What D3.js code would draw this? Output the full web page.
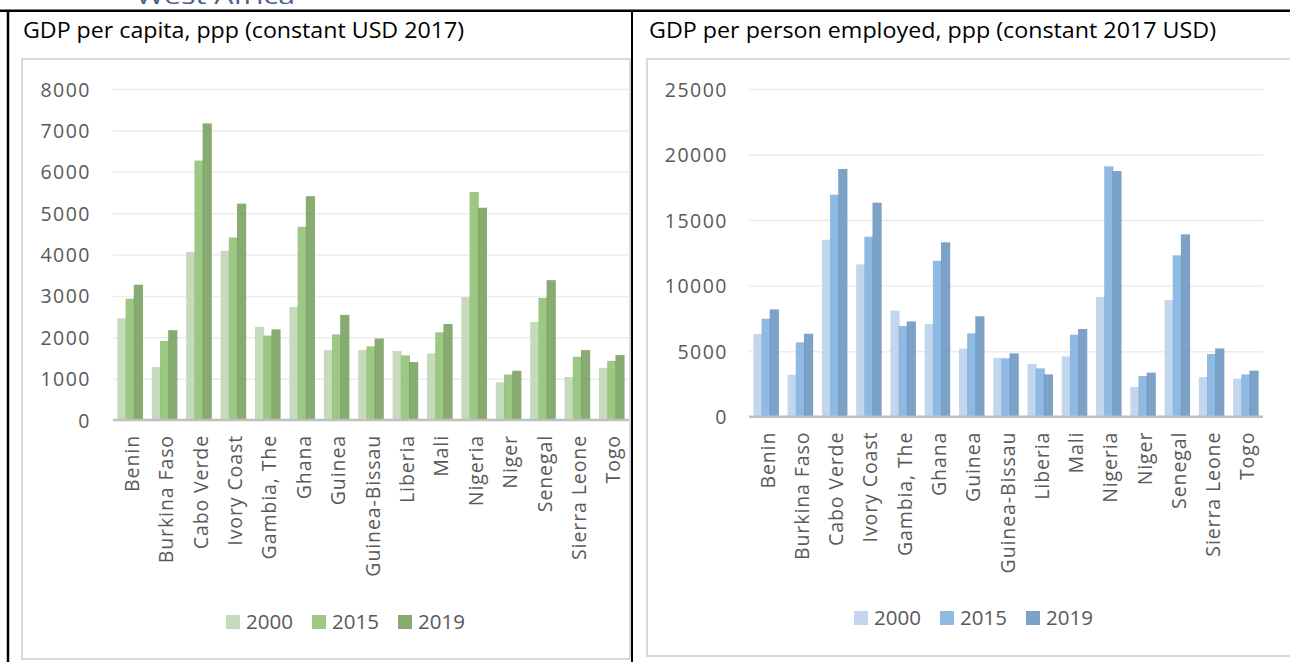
<!DOCTYPE html>
<html>
<head>
<meta charset="utf-8">
<script src="https://cdn.jsdelivr.net/npm/d3@7"></script>
<style>
  html, body { margin: 0; padding: 0; background: #ffffff; }
  svg { display: block; }
</style>
</head>
<body>
<svg id="page" width="1290" height="662"></svg>
<script>
// West African economies: GDP per capita and GDP per person employed (PPP, constant 2017 USD)
const countries = ["Benin", "Burkina Faso", "Cabo Verde", "Ivory Coast", "Gambia, The", "Ghana",
  "Guinea", "Guinea-Bissau", "Liberia", "Mali", "Nigeria", "Niger", "Senegal", "Sierra Leone", "Togo"];
const years = ["2000", "2015", "2019"];

const perCapita2000 = [2460, 1280, 4060, 4090, 2250, 2730, 1690, 1690, 1670, 1610, 2970, 910, 2370, 1040, 1260];
const perCapita2015 = [2930, 1910, 6270, 4410, 2040, 4670, 2070, 1780, 1560, 2120, 5510, 1100, 2950, 1530, 1430];
const perCapita2019 = [3270, 2170, 7170, 5230, 2190, 5410, 2540, 1970, 1400, 2320, 5130, 1190, 3380, 1690, 1570];

const perWorker2000 = [6310, 3200, 13500, 11620, 8090, 7070, 5180, 4480, 4020, 4600, 9130, 2260, 8900, 3030, 2900];
const perWorker2015 = [7480, 5670, 16940, 13730, 6920, 11900, 6360, 4450, 3690, 6260, 19100, 3100, 12310, 4780, 3230];
const perWorker2019 = [8190, 6330, 18900, 16330, 7270, 13300, 7660, 4830, 3230, 6690, 18740, 3360, 13910, 5210, 3510];

const perCapitaTicks = [0, 1000, 2000, 3000, 4000, 5000, 6000, 7000, 8000];
const perWorkerTicks = [0, 5000, 10000, 15000, 20000, 25000];

const greens = ["#c6dbbd", "#8fc073", "#779f5e"];
const blues = ["#c2d6ee", "#7fb1df", "#6b95c0"];

const svg = d3.select("#page");
const TEXT_GREY = "#595959";

// Document heading, running off the top of the page
svg.append("text")
  .attr("x", 136).attr("y", 4)
  .attr("font-family", "Open Sans, sans-serif")
  .attr("font-size", 22)
  .attr("fill", "#4a5f8a")
  .attr("textLength", 159).attr("lengthAdjust", "spacingAndGlyphs")
  .text("West Africa");

// Table rules
svg.append("line").attr("x1", 0).attr("x2", 1290).attr("y1", 10.8).attr("y2", 10.8)
  .attr("stroke", "#000").attr("stroke-width", 2.5);
svg.append("line").attr("x1", 8).attr("x2", 8).attr("y1", 10).attr("y2", 662)
  .attr("stroke", "#000").attr("stroke-width", 2.5);
svg.append("line").attr("x1", 632).attr("x2", 632).attr("y1", 10).attr("y2", 662)
  .attr("stroke", "#000").attr("stroke-width", 2);

function drawPanel(opts) {
  const g = svg.append("g");

  // Panel title
  g.append("text")
    .attr("x", opts.titleX).attr("y", 38)
    .attr("font-family", "Open Sans, sans-serif")
    .attr("font-size", 22.5)
    .attr("fill", "#000")
    .attr("textLength", opts.titleLen).attr("lengthAdjust", "spacingAndGlyphs")
    .text(opts.title);

  // Chart frame
  g.append("rect")
    .attr("x", opts.box[0]).attr("y", opts.box[1])
    .attr("width", opts.box[2]).attr("height", opts.box[3])
    .attr("fill", "#fff").attr("stroke", "#d9d9d9").attr("stroke-width", 2);

  const x0 = d3.scaleBand().domain(countries).range(opts.xRange)
    .paddingInner(0.256).paddingOuter(0.128);
  const barW = 9.2;
  const x1 = d3.scalePoint().domain(years).range([0, x0.bandwidth() - barW]);
  const y = d3.scaleLinear().domain([0, d3.max(opts.ticks)]).range(opts.yRange);

  // Gridlines and value labels
  const yAxis = d3.axisLeft(y).tickValues(opts.ticks)
    .tickSize(-(opts.xRange[1] - opts.xRange[0])).tickFormat(d3.format("d")).tickPadding(0);
  const ya = g.append("g").attr("transform", `translate(${opts.xRange[0]},0)`).call(yAxis);
  ya.select(".domain").remove();
  ya.selectAll(".tick line").attr("stroke", "#ececec").attr("stroke-width", 1.5)
    .filter(d => d === 0).remove();
  ya.selectAll(".tick text")
    .attr("x", opts.yLabelX - opts.xRange[0])
    .attr("dy", "0.36em")
    .attr("font-family", "Open Sans, sans-serif")
    .attr("font-size", 19.5)
    .attr("letter-spacing", 1.5)
    .attr("fill", TEXT_GREY)
    .attr("text-anchor", "end");

  // Bars, one series at a time so later years sit over earlier ones
  opts.series.forEach((vals, si) => {
    g.append("g").selectAll("rect")
      .data(vals.map((v, i) => ({ c: countries[i], v })))
      .join("rect")
      .attr("x", d => x0(d.c) + x1(years[si]))
      .attr("y", d => y(d.v))
      .attr("width", barW)
      .attr("height", d => y(0) - y(d.v))
      .attr("fill", opts.colors[si])
      .attr("fill-opacity", si === 0 ? 1 : 0.88);
  });

  // Category axis
  const xa = g.append("g").attr("transform", `translate(0,${y(0)})`)
    .call(d3.axisBottom(x0).tickSize(0).tickPadding(0));
  xa.select(".domain").attr("stroke", "#bfbfbf").attr("stroke-width", 2.5)
    .attr("d", `M${opts.xRange[0]},0H${opts.xRange[1]}`);
  xa.selectAll(".tick text")
    .attr("transform", "rotate(-90)")
    .attr("x", -15).attr("y", 1.5).attr("dy", "0.36em")
    .attr("text-anchor", "end")
    .attr("font-family", "Open Sans, sans-serif")
    .attr("font-size", 19.5)
    .attr("letter-spacing", 0.9)
    .attr("fill", TEXT_GREY);

  // Legend
  const lg = g.append("g");
  years.forEach((yr, i) => {
    const lx = opts.legendX + i * 86;
    lg.append("rect").attr("x", lx).attr("y", opts.legendY - 7)
      .attr("width", 14).attr("height", 14).attr("fill", opts.colors[i])
      .attr("fill-opacity", i === 0 ? 1 : 0.88);
    lg.append("text").attr("x", lx + 20).attr("y", opts.legendY).attr("dy", "0.36em")
      .attr("font-family", "Open Sans, sans-serif").attr("font-size", 20.5)
      .attr("fill", TEXT_GREY).text(yr);
  });
}

drawPanel({
  title: "GDP per capita, ppp (constant USD 2017)",
  titleX: 23, titleLen: 441,
  box: [22, 59, 608, 600],
  xRange: [113, 629], yRange: [420, 89],
  yLabelX: 91,
  ticks: perCapitaTicks,
  series: [perCapita2000, perCapita2015, perCapita2019],
  colors: greens,
  legendX: 226, legendY: 622
});

drawPanel({
  title: "GDP per person employed, ppp (constant 2017 USD)",
  titleX: 649, titleLen: 567,
  box: [647, 59, 660, 597],
  xRange: [749, 1263], yRange: [416.7, 89],
  yLabelX: 728,
  ticks: perWorkerTicks,
  series: [perWorker2000, perWorker2015, perWorker2019],
  colors: blues,
  legendX: 854, legendY: 618
});
</script>
</body>
</html>
